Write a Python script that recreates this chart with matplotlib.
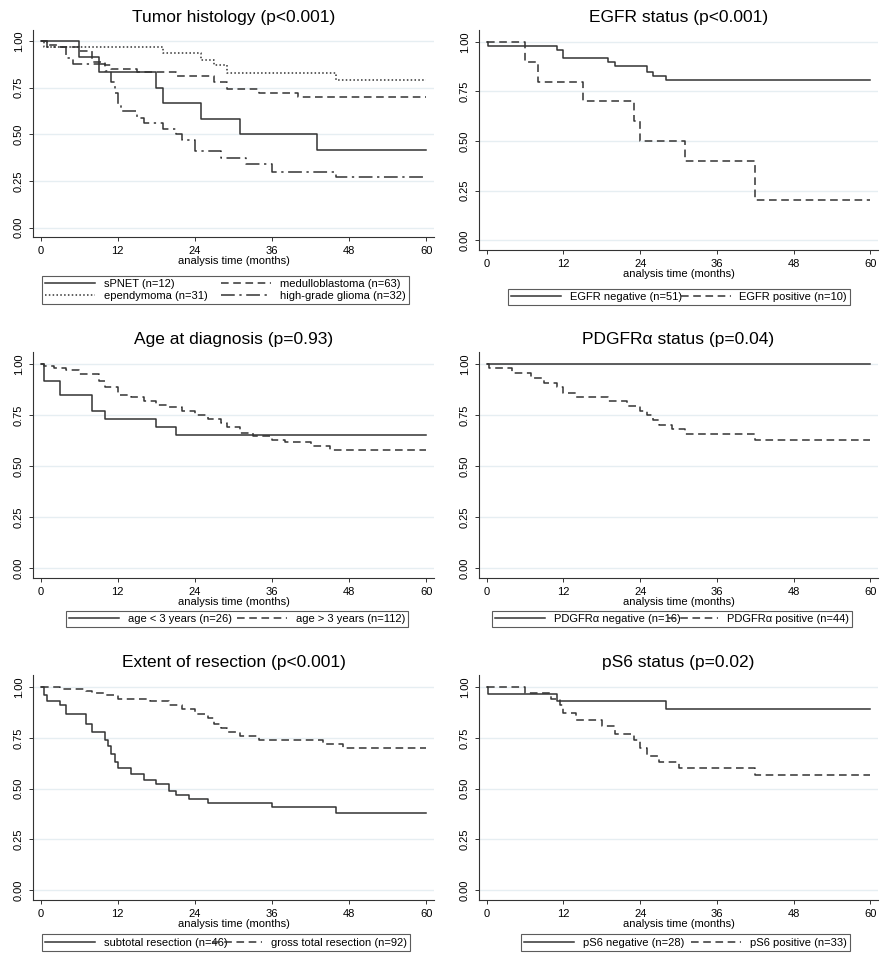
import matplotlib
matplotlib.use("Agg")
import matplotlib.pyplot as plt

plt.rcParams['font.family'] = ['Liberation Sans', 'DejaVu Sans']

titles = ["Tumor histology (p<0.001)", "EGFR status (p<0.001)", "Age at diagnosis (p=0.93)",
          "PDGFRα status (p=0.04)", "Extent of resection (p<0.001)", "pS6 status (p=0.02)"]

spnet_t = [0, 6, 9, 18, 19, 25, 31, 43, 60]
spnet_s = [1, .917, .833, .75, .667, .583, .5, .417, .417]
epen_t = [0, .5, 19, 25, 27, 29, 46, 60]
epen_s = [1, .97, .935, .90, .87, .83, .79, .79]
medu_t = [0, 1, 3, 6, 8, 10, 11, 15, 21, 27, 29, 34, 40, 60]
medu_s = [1, .98, .97, .95, .89, .87, .85, .835, .815, .78, .745, .72, .70, .70]
hgg_t = [0, 1, 4, 5, 10, 11, 11.5, 12, 12.5, 15, 16, 19, 21, 22, 24, 28, 32, 36, 46, 60]
hgg_s = [1, .97, .91, .875, .84, .78, .72, .66, .625, .59, .56, .53, .50, .47, .41, .375, .34, .30, .27, .27]

egfrn_t = [0, .2, 11, 12, 19, 20, 25, 26, 28, 60]
egfrn_s = [1, .98, .96, .92, .90, .88, .85, .83, .81, .81]
egfrp_t = [0, 6, 8, 15, 23, 24, 31, 42, 60]
egfrp_s = [1, .9, .8, .7, .6, .5, .4, .2, .2]

ageu_t = [0, .5, 3, 8, 10, 18, 21, 60]
ageu_s = [1, .92, .85, .77, .73, .69, .65, .65]
ageo_t = [0, .5, 2, 4, 6, 9, 10, 12, 14, 16, 18, 20, 22, 24, 26, 28, 29, 31, 33, 36, 38, 42, 45, 60]
ageo_s = [1, .99, .98, .97, .95, .92, .89, .85, .84, .82, .80, .79, .77, .75, .73, .71, .69, .66, .645, .63, .62, .60, .58, .58]

pdn_t = [0, 60]
pdn_s = [1, 1]
pdp_t = [0, .3, 4, 7, 9, 11, 12, 14, 19, 22, 24, 25, 26, 27, 29, 31, 42, 60]
pdp_s = [1, .98, .955, .93, .91, .89, .86, .84, .82, .795, .77, .75, .725, .70, .68, .655, .63, .63]

sub_t = [0, .5, 1, 3, 4, 7, 8, 10, 10.5, 11, 11.5, 12, 14, 16, 18, 20, 21, 23, 26, 36, 46, 60]
sub_s = [1, .96, .93, .91, .87, .82, .78, .74, .71, .67, .63, .60, .57, .54, .52, .49, .47, .45, .43, .41, .38, .38]
gtr_t = [0, 3, 7, 8, 10, 12, 17, 20, 22, 24, 26, 27, 28, 29, 31, 34, 44, 47, 60]
gtr_s = [1, .99, .98, .97, .96, .94, .93, .91, .89, .87, .85, .82, .80, .78, .76, .74, .72, .70, .70]

ps6n_t = [0, .2, 11, 28, 60]
ps6n_s = [1, .965, .93, .89, .89]
ps6p_t = [0, 6, 10, 11.5, 12, 14, 18, 20, 23, 24, 25, 27, 30, 42, 60]
ps6p_s = [1, .97, .94, .91, .875, .84, .81, .77, .74, .70, .66, .63, .60, .565, .565]

SOLID = '-'
DASH = (0, (5, 3))
DOT = (0, (1, 1.5))
DASHDOT = (0, (9, 3, 1.5, 3))

panels = [
    [(spnet_t, spnet_s, SOLID, "sPNET (n=12)"), (epen_t, epen_s, DOT, "ependymoma (n=31)"),
     (medu_t, medu_s, DASH, "medulloblastoma (n=63)"), (hgg_t, hgg_s, DASHDOT, "high-grade glioma (n=32)")],
    [(egfrn_t, egfrn_s, SOLID, "EGFR negative (n=51)"), (egfrp_t, egfrp_s, DASH, "EGFR positive (n=10)")],
    [(ageu_t, ageu_s, SOLID, "age < 3 years (n=26)"), (ageo_t, ageo_s, DASH, "age > 3 years (n=112)")],
    [(pdn_t, pdn_s, SOLID, "PDGFRα negative (n=16)"), (pdp_t, pdp_s, DASH, "PDGFRα positive (n=44)")],
    [(sub_t, sub_s, SOLID, "subtotal resection (n=46)"), (gtr_t, gtr_s, DASH, "gross total resection (n=92)")],
    [(ps6n_t, ps6n_s, SOLID, "pS6 negative (n=28)"), (ps6p_t, ps6p_s, DASH, "pS6 positive (n=33)")],
]

W, H = 892, 971
fig = plt.figure(figsize=(W / 100, H / 100), dpi=100)

cols = [(33, 434), (479, 878)]
rows = [(30, 237, 273, 307), (352, 578, 609, 629), (675, 900, 933, 952)]
rows_r = [(30, 250, 287, 307), (352, 578, 609, 629), (675, 900, 933, 952)]
leg_l = [[(36, 415), (36, 415), (36, 415)], [(502, 856), (486, 858), (486, 858)]]
leg_l[0][1] = (60, 414)
leg_l[0][2] = (36, 416)
leg_l[1][2] = (515, 856)

for i, series in enumerate(panels):
    r, c = divmod(i, 2)
    t, b, lt, lb = rows[r] if c == 0 else rows_r[r]
    l, rr = cols[c]
    ax = fig.add_axes([l / W, 1 - b / H, (rr - l) / W, (b - t) / H])
    for (tt, ss, ls, lab) in series:
        ax.step(tt, ss, where='post', color='#333333', lw=1.1, linestyle=ls, label=lab)
    ax.set_xlim(-1.2, 61.2)
    ax.set_ylim(-0.05, 1.06)
    ax.set_xticks([0, 12, 24, 36, 48, 60])
    ax.set_yticks([0, .25, .5, .75, 1])
    ax.set_yticklabels(["0.00", "0.25", "0.50", "0.75", "1.00"], rotation=90, va='center')
    ax.tick_params(labelsize=8, length=3, width=0.7, color='#333333')
    ax.grid(axis='y', color='#e6eef2', lw=1)
    ax.set_axisbelow(True)
    for s in ['top', 'right']:
        ax.spines[s].set_visible(False)
    for s in ['left', 'bottom']:
        ax.spines[s].set_color('#333333')
        ax.spines[s].set_linewidth(0.8)
    ax.set_xlabel("analysis time (months)", fontsize=8, labelpad=0)
    ax.set_title(titles[i], fontsize=12.5, pad=6)
    ll, lr = leg_l[c][r]
    h, labs = ax.get_legend_handles_labels()
    leg = fig.legend(h, labs, loc='center', ncol=2, fontsize=8, frameon=True, fancybox=False,
                     edgecolor='#333333', handlelength=4.5, columnspacing=2, borderpad=0.3,
                     labelspacing=0.2, mode='expand',
                     bbox_to_anchor=(ll / W, 1 - lb / H, (lr - ll) / W, (lb - lt) / H))
    leg.get_frame().set_linewidth(0.8)

fig.savefig("out.png", dpi=100, facecolor='white')
